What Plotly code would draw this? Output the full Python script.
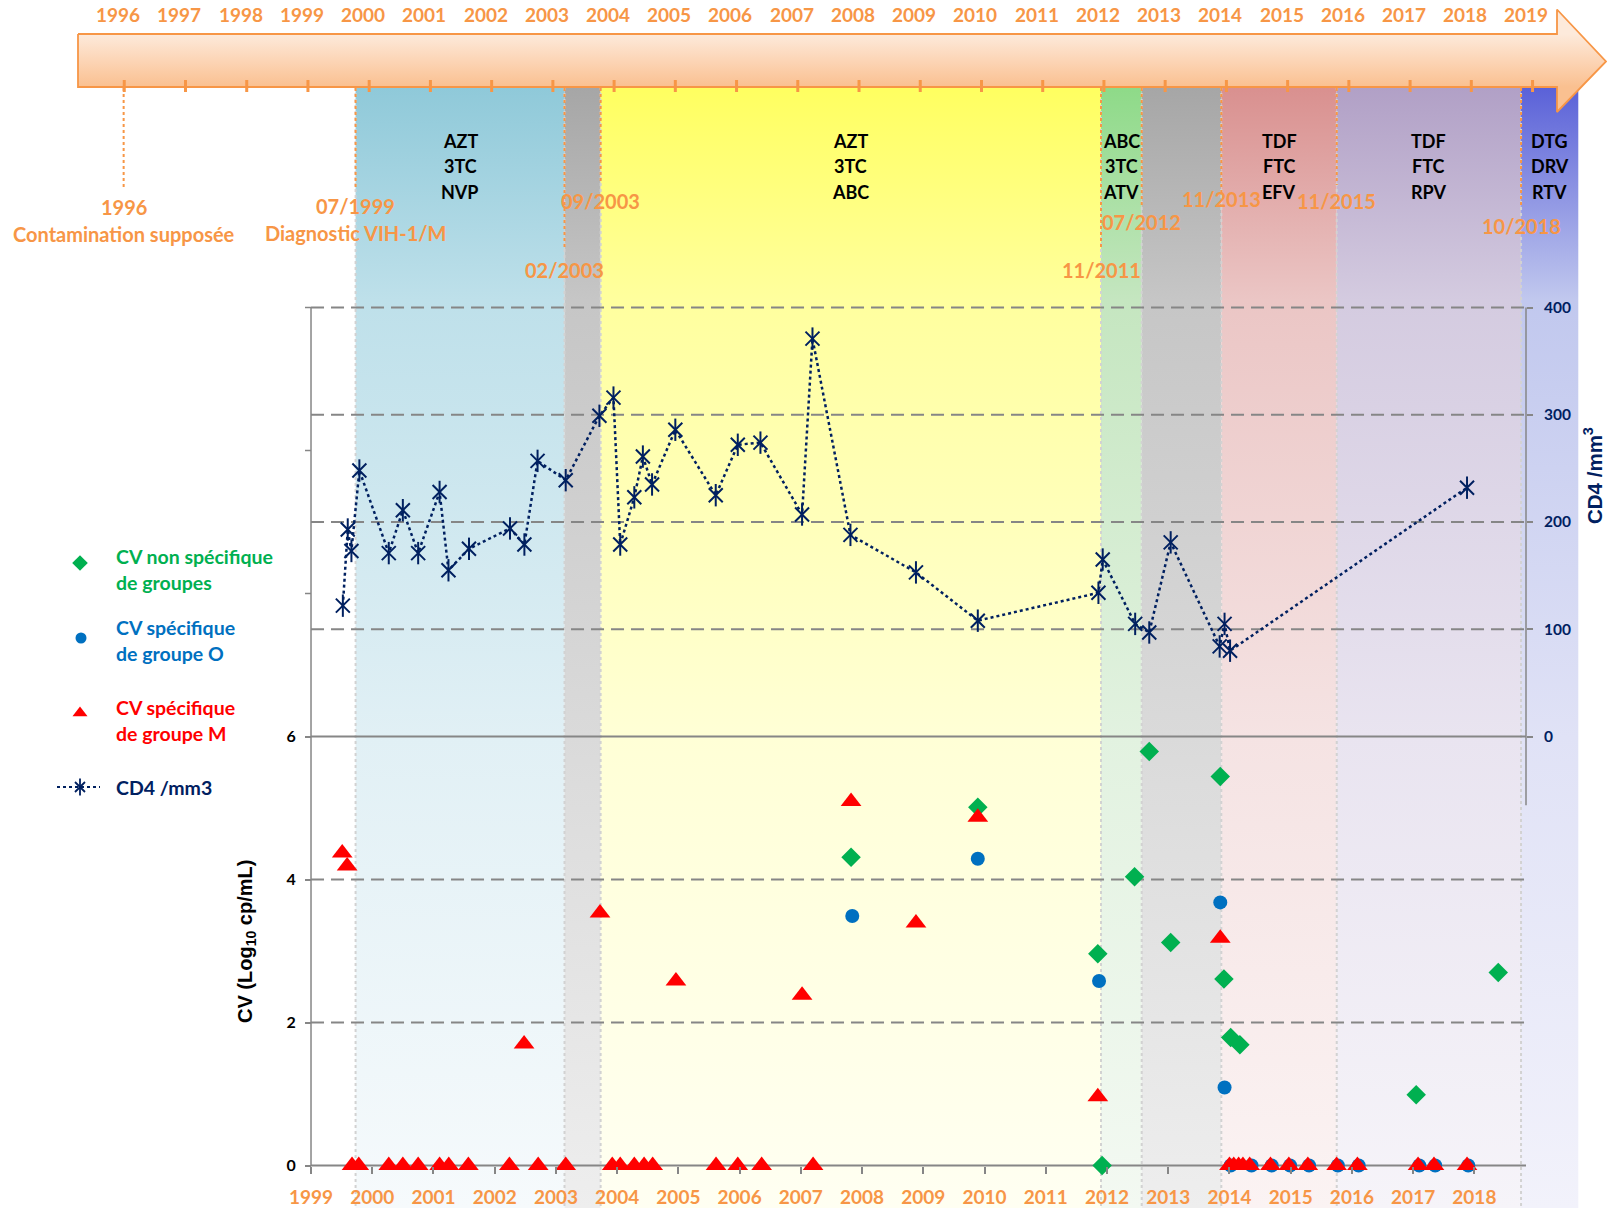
import plotly.graph_objects as go

W, H = 1607, 1208

# ---------------- data ----------------
cd4_dates = [1999.52, 1999.60, 1999.66, 1999.79, 2000.27, 2000.50, 2000.75, 2001.10, 2001.245,
             2001.58, 2002.25, 2002.485, 2002.70, 2003.16, 2003.71, 2003.94, 2004.05, 2004.28,
             2004.42, 2004.57, 2004.95, 2005.61, 2005.97, 2006.34, 2007.02, 2007.19, 2007.81,
             2008.88, 2009.89, 2011.86, 2011.93, 2012.46, 2012.69, 2013.04, 2013.84, 2013.92,
             2014.01, 2017.88]
cd4_values = [122, 193, 173, 248, 171, 211, 171, 228, 155, 175, 194, 179, 257, 239, 299, 316,
              179, 223, 261, 235, 286, 225, 272, 274, 207, 371, 188, 153, 108, 134, 165, 105,
              97, 181, 84, 105, 80, 232]

cv_nonspec_dates = [2007.82, 2009.89, 2011.85, 2011.92, 2012.45, 2012.69, 2013.04, 2013.85,
                    2013.91, 2014.02, 2014.17, 2017.05, 2018.39]
cv_nonspec_values = [4.31, 5.01, 2.96, 0.0, 4.04, 5.79, 3.12, 5.44, 2.61, 1.79, 1.69, 0.99, 2.70]

cv_O_dates = [2007.84, 2009.89, 2011.87, 2013.85, 2013.92,
              2014.02, 2014.36, 2014.69, 2014.99, 2015.30, 2015.77, 2016.11, 2017.10, 2017.36, 2017.90]
cv_O_values = [3.49, 4.29, 2.58, 3.68, 1.09,
               0, 0, 0, 0, 0, 0, 0, 0, 0, 0]

cv_M_dates = [1999.51, 1999.59, 2002.48, 2003.72, 2004.96, 2007.02, 2007.82, 2008.88, 2009.89,
              2011.85, 2013.85,
              1999.67, 1999.78, 2000.27, 2000.50, 2000.75, 2001.10, 2001.25, 2001.57, 2002.24,
              2002.71, 2003.16, 2003.92, 2004.05, 2004.28, 2004.44, 2004.58, 2005.615, 2005.97,
              2006.36, 2007.20, 2014.00, 2014.07, 2014.15, 2014.22, 2014.33, 2014.67, 2014.97,
              2015.28, 2015.75, 2016.09, 2017.08, 2017.34, 2017.88]
cv_M_values = [4.37, 4.19, 1.70, 3.53, 2.58, 2.38, 5.09, 3.39, 4.87, 0.96, 3.18] + [0] * 33

bottom_years = list(range(1999, 2019))
top_years = list(range(1996, 2020))
cv_ticks = [0, 2, 4, 6]
cv_minor_ticks = [8, 10, 12]
cd4_ticks = [0, 100, 200, 300, 400]
cd4_grid = [100, 200, 300, 400]
cv_grid = [2, 4]

period_bounds = [1999.728, 2003.140, 2003.730, 2011.902, 2012.567, 2013.867, 2015.752, 2018.762, 2019.697]
period_drugs = [["AZT", "3TC", "NVP"], None, ["AZT", "3TC", "ABC"], ["ABC", "3TC", "ATV"], None,
                ["TDF", "FTC", "EFV"], ["TDF", "FTC", "RPV"], ["DTG", "DRV", "RTV"]]
# colour stops: top, ~y300px, ~y737px, bottom
period_colors = [
    ("#8FC9D9", "#BEE0EA", "#E1F0F5", "#F6FAFC"),
    ("#A6A6A6", "#C6C6C6", "#DADADA", "#EEEEEE"),
    ("#FFFF60", "#FFFF9E", "#FFFFD6", "#FFFFF2"),
    ("#8EDA88", "#C5E6C0", "#E2F2E0", "#F3F9F2"),
    ("#A6A6A6", "#C6C6C6", "#DADADA", "#EEEEEE"),
    ("#D9908F", "#EBC6C5", "#F5E3E3", "#FBF3F3"),
    ("#B1A0C6", "#D4CBE0", "#E9E4F0", "#F6F4F9"),
    ("#5A61D8", "#C1C8EE", "#E0E2F6", "#F2F2FB"),
]

event_x = [1995.94, 1999.728, 2003.140, 2003.730, 2011.902, 2012.567, 2013.867, 2015.752, 2018.762]
event_labels = [["1996", "Contamination supposée"], ["07/1999", "Diagnostic VIH-1/M"], ["02/2003"],
                ["09/2003"], ["11/2011"], ["07/2012"], ["11/2013"], ["11/2015"], ["10/2018"]]
event_label_py = [207, 206, 269.5, 201, 269.5, 221.5, 199, 201, 225.5]
event_line_end_py = [188, 187, 250, 183, 250, 207, 193, 185, 208]

# ---------------- geometry helpers (pixel -> axis) ----------------
X0, X1 = 1993.9207, 2020.1659
CV0_PX, CV_UNIT = 1165.5, 71.5
YTOP = CV0_PX / CV_UNIT
YBOT = -(H - CV0_PX) / CV_UNIT
Y2BOT, Y2TOP = (YBOT - 6) * 400 / 6, (YTOP - 6) * 400 / 6
X_RIGHT = 2018.843


def px_x(px):
    return X0 + px * (X1 - X0) / W


def px_y(py):
    return YTOP - py * (YTOP - YBOT) / H


FONT = "Lato"
ORANGE = "#F79646"
NAVY = "#002060"
GRAY = "#868686"
GREEN = "#00B050"
BLUE = "#0070C0"
RED = "#FF0000"

fig = go.Figure()

# treatment period bands with vertical gradient
band_top, band_bot = px_y(87), px_y(H)
f300 = (H - 300) / (H - 87)
f737 = (H - 737) / (H - 87)
for i in range(len(period_colors)):
    a, b = period_bounds[i], period_bounds[i + 1]
    c = period_colors[i]
    fig.add_trace(go.Scatter(
        x=[a, b, b, a, a], y=[band_bot, band_bot, band_top, band_top, band_bot],
        mode="lines", line=dict(width=0), fill="toself",
        fillgradient=dict(type="vertical",
                          colorscale=[[0, c[3]], [f737, c[2]], [f300, c[1]], [1, c[0]]]),
        hoverinfo="skip", showlegend=False))

# gray dotted band boundaries
for bx in period_bounds[:-1]:
    fig.add_trace(go.Scatter(x=[bx, bx], y=[band_top, band_bot], mode="lines",
                             line=dict(color="#D2D2D2", width=2, dash="dot"),
                             hoverinfo="skip", showlegend=False))

# timeline arrow
ax = [78, 1557, 1557, 1606, 1557, 1557, 78, 78]
ay = [34, 34, 9.5, 61.5, 112, 87, 87, 34]
fig.add_trace(go.Scatter(
    x=[px_x(v) for v in ax], y=[px_y(v) for v in ay], mode="lines",
    line=dict(color=ORANGE, width=1.8), fill="toself",
    fillgradient=dict(type="vertical", start=px_y(87), stop=px_y(34),
                      colorscale=[[0, "#FAC090"], [0.5, "#FCD5B6"], [1, "#FDEADB"]]),
    hoverinfo="skip", showlegend=False))
for yr in top_years:
    fig.add_trace(go.Scatter(x=[yr - 0.05, yr - 0.05], y=[px_y(80), px_y(92)], mode="lines",
                             line=dict(color=ORANGE, width=3), hoverinfo="skip", showlegend=False))

# orange dotted event lines
for ex, ey in zip(event_x, event_line_end_py):
    fig.add_trace(go.Scatter(x=[ex, ex], y=[px_y(88), px_y(ey)], mode="lines",
                             line=dict(color=ORANGE, width=2, dash="dot"),
                             hoverinfo="skip", showlegend=False))

# grid lines
for g in cd4_grid:
    fig.add_trace(go.Scatter(x=[1999, X_RIGHT], y=[g, g], yaxis="y2", mode="lines",
                             line=dict(color=GRAY, width=2, dash="13px,7px"),
                             hoverinfo="skip", showlegend=False))
for g in cv_grid:
    fig.add_trace(go.Scatter(x=[1999, X_RIGHT], y=[g, g], mode="lines",
                             line=dict(color=GRAY, width=2, dash="13px,7px"),
                             hoverinfo="skip", showlegend=False))
# axis lines
fig.add_trace(go.Scatter(x=[1999, X_RIGHT], y=[6, 6], mode="lines",
                         line=dict(color=GRAY, width=2), hoverinfo="skip", showlegend=False))
fig.add_trace(go.Scatter(x=[1999, X_RIGHT], y=[0, 0], mode="lines",
                         line=dict(color=GRAY, width=2), hoverinfo="skip", showlegend=False))
fig.add_trace(go.Scatter(x=[1999, 1999], y=[0, 12], mode="lines",
                         line=dict(color=GRAY, width=1.5), hoverinfo="skip", showlegend=False))
fig.add_trace(go.Scatter(x=[X_RIGHT, X_RIGHT], y=[-64, 400], yaxis="y2", mode="lines",
                         line=dict(color=GRAY, width=1.5), hoverinfo="skip", showlegend=False))
# unlabeled upper ticks of the CV axis
for t in cv_minor_ticks:
    fig.add_trace(go.Scatter(x=[1999, px_x(305)], y=[t, t], mode="lines",
                             line=dict(color=GRAY, width=1.5), hoverinfo="skip", showlegend=False))

# CV series
fig.add_trace(go.Scatter(x=cv_nonspec_dates, y=cv_nonspec_values, mode="markers",
                         marker=dict(symbol="diamond", size=15, color=GREEN),
                         name="CV non spécifique de groupes", showlegend=False))
fig.add_trace(go.Scatter(x=cv_O_dates, y=cv_O_values, mode="markers",
                         marker=dict(symbol="circle", size=14, color=BLUE),
                         name="CV spécifique de groupe O", showlegend=False))
fig.add_trace(go.Scatter(x=cv_M_dates, y=cv_M_values, mode="markers",
                         marker=dict(symbol="triangle-up", size=18, color=RED),
                         name="CV spécifique de groupe M", showlegend=False))

# CD4 series
fig.add_trace(go.Scatter(x=cd4_dates, y=cd4_values, yaxis="y2", mode="lines+markers",
                         line=dict(color=NAVY, width=2.5, dash="dot"),
                         marker=dict(symbol="x-thin-open", size=14, color=NAVY,
                                     line=dict(color=NAVY, width=2)),
                         name="CD4 /mm3", showlegend=False))
fig.add_trace(go.Scatter(x=cd4_dates, y=cd4_values, yaxis="y2", mode="markers",
                         marker=dict(symbol="line-ns-open", size=16, color=NAVY,
                                     line=dict(color=NAVY, width=2)),
                         hoverinfo="skip", showlegend=False))

# legend (drawn manually)
fig.add_trace(go.Scatter(x=[px_x(80)], y=[px_y(563)], mode="markers",
                         marker=dict(symbol="diamond", size=12, color=GREEN),
                         hoverinfo="skip", showlegend=False))
fig.add_trace(go.Scatter(x=[px_x(81)], y=[px_y(638)], mode="markers",
                         marker=dict(symbol="circle", size=11, color=BLUE),
                         hoverinfo="skip", showlegend=False))
fig.add_trace(go.Scatter(x=[px_x(80)], y=[px_y(713)], mode="markers",
                         marker=dict(symbol="triangle-up", size=13, color=RED),
                         hoverinfo="skip", showlegend=False))
fig.add_trace(go.Scatter(x=[px_x(57), px_x(100)], y=[px_y(787), px_y(787)], mode="lines",
                         line=dict(color=NAVY, width=2, dash="dot"),
                         hoverinfo="skip", showlegend=False))
fig.add_trace(go.Scatter(x=[px_x(80)], y=[px_y(787)], mode="markers",
                         marker=dict(symbol="x-thin-open", size=10, color=NAVY,
                                     line=dict(color=NAVY, width=1.8)),
                         hoverinfo="skip", showlegend=False))
fig.add_trace(go.Scatter(x=[px_x(80)], y=[px_y(787)], mode="markers",
                         marker=dict(symbol="line-ns-open", size=12, color=NAVY,
                                     line=dict(color=NAVY, width=1.8)),
                         hoverinfo="skip", showlegend=False))

annotations = []


def ann(text, x, py, color, size=19, xref="x", xanchor="center", family=FONT, angle=0):
    annotations.append(dict(
        text=text, x=x, y=1 - py / H, xref=xref, yref="paper", xanchor=xanchor,
        yanchor="middle", showarrow=False, textangle=angle,
        font=dict(family=family, size=size, color=color)))


# top year labels
for yr in top_years:
    ann(f"<b>{yr}</b>", yr - 0.15, 15, ORANGE, size=19)

# drug labels
for i, drugs in enumerate(period_drugs):
    if drugs is None:
        continue
    mid = (period_bounds[i] + period_bounds[i + 1]) / 2
    for k, d in enumerate(drugs):
        ann(f"<b>{d}</b>", mid, 140.5 + 25.6 * k, "#000000", size=18)

# event labels
for ex, lines, py in zip(event_x, event_labels, event_label_py):
    for k, t in enumerate(lines):
        ann(f"<b>{t}</b>", ex, py + 26.7 * k, ORANGE, size=20)

# legend text
leg = [(["CV non spécifique", "de groupes"], 556, GREEN),
       (["CV spécifique", "de groupe O"], 627, BLUE),
       (["CV spécifique", "de groupe M"], 707, RED),
       (["CD4 /mm3"], 787, NAVY)]
for lines, py, col in leg:
    for k, t in enumerate(lines):
        ann(f"<b>{t}</b>", px_x(114), py + 26.5 * k, col, size=19.5, xanchor="left")

# axis titles
ann("<b>CV (Log<sub>10</sub> cp/mL)</b>", px_x(246), 942, "#000000", size=20,
    family="Liberation Sans", angle=-90)
ann("<b>CD4 /mm<sup>3</sup></b>", px_x(1593), 476, NAVY, size=20.5,
    family="Liberation Sans", angle=-90)

fig.update_layout(
    width=W, height=H,
    margin=dict(l=0, r=0, t=0, b=0, pad=0),
    paper_bgcolor="white", plot_bgcolor="white",
    showlegend=False,
    annotations=annotations,
    xaxis=dict(range=[X0, X1], domain=[0, 1], anchor="free", position=(H - CV0_PX) / H,
               tickvals=bottom_years, ticktext=[f"<b>{y}</b>" for y in bottom_years],
               ticks="outside", ticklen=7, tickwidth=1.5, tickcolor=GRAY,
               tickfont=dict(family=FONT, size=19, color=ORANGE), ticklabelstandoff=8,
               showgrid=False, zeroline=False, showline=False, automargin=False, fixedrange=True),
    yaxis=dict(range=[YBOT, YTOP], domain=[0, 1], anchor="free", position=311 / W,
               tickvals=cv_ticks, ticktext=[f"<b>{t}</b>" for t in cv_ticks],
               ticks="outside", ticklen=6, tickwidth=1.5, tickcolor=GRAY,
               tickfont=dict(family=FONT, size=16, color="#000000"), ticklabelstandoff=6,
               showgrid=False, zeroline=False, showline=False, automargin=False, fixedrange=True),
    yaxis2=dict(range=[Y2BOT, Y2TOP], overlaying="y", side="right", anchor="free",
                position=1526 / W,
                tickvals=cd4_ticks, ticktext=[f"<b>{t}</b>" for t in cd4_ticks],
                ticks="outside", ticklen=6, tickwidth=1.5, tickcolor=GRAY,
                tickfont=dict(family=FONT, size=15.5, color=NAVY), ticklabelstandoff=8,
                showgrid=False, zeroline=False, showline=False, automargin=False, fixedrange=True),
)

fig.write_html("out.html", config={"displayModeBar": False},
               post_script="document.body.style.margin='0px';document.body.style.overflow='hidden';")
